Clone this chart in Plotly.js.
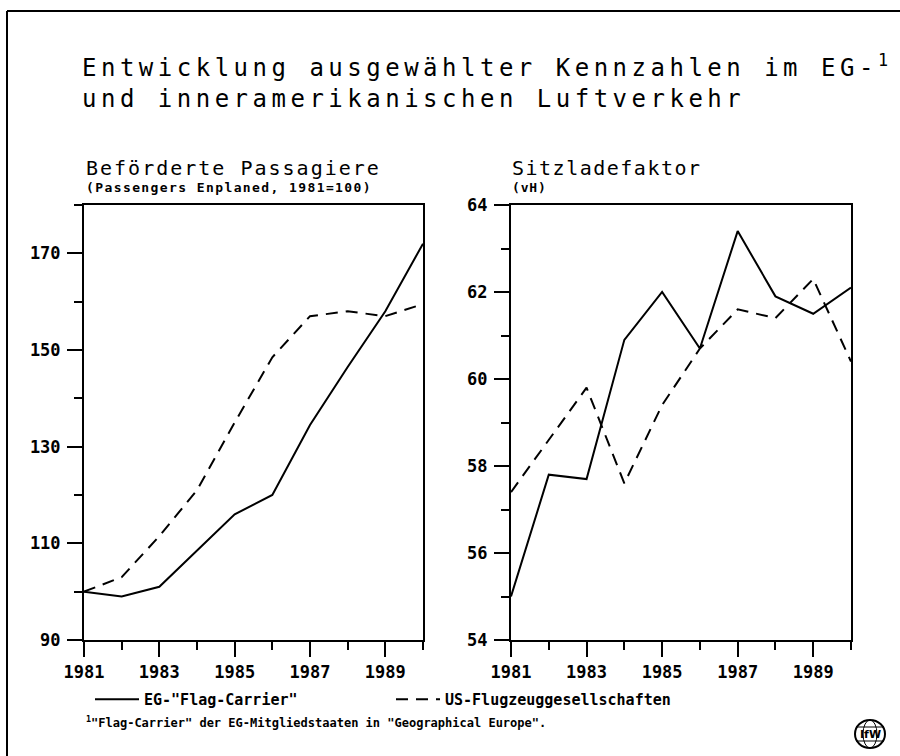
<!DOCTYPE html>
<html>
<head>
<meta charset="utf-8">
<script src="https://cdn.plot.ly/plotly-3.0.1.min.js"></script>
<style>
html,body{margin:0;padding:0;background:#fff;}
#chart{width:900px;height:756px;}
</style>
</head>
<body>
<div id="chart"></div>
<script>
// ---- data ----
const years = [1981, 1982, 1983, 1984, 1985, 1986, 1987, 1988, 1989, 1990];
const passengersEG = [100, 99, 101, 108.5, 116, 120, 134.5, 146.5, 158, 172];
const passengersUS = [100, 103, 111.5, 121, 135, 148.5, 157, 158, 157, 159.5];
const loadFactorEG = [55.0, 57.8, 57.7, 60.9, 62.0, 60.7, 63.4, 61.9, 61.5, 62.1];
const loadFactorUS = [57.4, 58.6, 59.8, 57.6, 59.4, 60.7, 61.6, 61.4, 62.3, 60.4];
const xTickYears = [1981, 1983, 1985, 1987, 1989];
const seriesNames = ['EG-"Flag-Carrier"', 'US-Flugzeuggesellschaften'];

const W = 900, H = 756;
const px = v => v / W;
const py = v => 1 - v / H;
const MONO = 'DejaVu Sans Mono';
const sp = (t, s) => '<span style="letter-spacing:' + s + 'px">' + t + '</span>';

const solid = {color: '#000', width: 2};
const dashed = {color: '#000', width: 2, dash: '12px,8px'};

const traces = [
  {x: years, y: passengersEG, xaxis: 'x', yaxis: 'y', mode: 'lines', name: seriesNames[0], line: solid, showlegend: true},
  {x: years, y: passengersUS, xaxis: 'x', yaxis: 'y', mode: 'lines', name: seriesNames[1], line: dashed, showlegend: true},
  {x: years, y: loadFactorEG, xaxis: 'x2', yaxis: 'y2', mode: 'lines', name: seriesNames[0], line: solid, showlegend: false},
  {x: years, y: loadFactorUS, xaxis: 'x2', yaxis: 'y2', mode: 'lines', name: seriesNames[1], line: dashed, showlegend: false}
];

const tickFont = {family: MONO, size: 17, color: '#000', weight: 'bold'};
function xAxis(domain, anchor) {
  return {
    domain: domain, anchor: anchor, range: [1981, 1990],
    tickvals: xTickYears, ticktext: xTickYears.map(String),
    ticks: 'outside', ticklen: 15, tickwidth: 2, tickcolor: '#000',
    minor: {dtick: 1, tick0: 1981, ticks: 'outside', ticklen: 8, tickwidth: 2, tickcolor: '#000'},
    showline: true, linewidth: 2, linecolor: '#000', mirror: true,
    showgrid: false, zeroline: false, tickfont: tickFont, ticklabelstandoff: 1,
    fixedrange: true
  };
}
function yAxis(domain, anchor, range, dtick) {
  return {
    domain: domain, anchor: anchor, range: range,
    tick0: range[0], dtick: dtick,
    ticks: 'outside', ticklen: 15, tickwidth: 2, tickcolor: '#000',
    minor: {dtick: dtick / 2, ticks: 'outside', ticklen: 8, tickwidth: 2, tickcolor: '#000'},
    showline: true, linewidth: 2, linecolor: '#000', mirror: true,
    showgrid: false, zeroline: false, tickfont: tickFont, ticklabelstandoff: 3,
    fixedrange: true
  };
}

const yDom = [py(640), py(205)];

const layout = {
  width: W, height: H,
  margin: {l: 0, r: 0, t: 0, b: 0},
  paper_bgcolor: '#fff', plot_bgcolor: '#fff',
  font: {family: MONO, color: '#000'},
  title: {
    text: sp('Entwicklung ausgewählter Kennzahlen im EG-<sup>1</sup>', 4.5) + '<br>' + sp('und inneramerikanischen Luftverkehr', 4.5),
    x: px(82), xanchor: 'left', xref: 'paper',
    y: py(76), yanchor: 'top', yref: 'paper',
    font: {family: MONO, size: 24, color: '#000'}
  },
  xaxis: xAxis([px(84), px(423)], 'y'),
  yaxis: yAxis(yDom, 'x', [90, 180], 20),
  xaxis2: xAxis([px(511), px(851)], 'y2'),
  yaxis2: yAxis(yDom, 'x2', [54, 64], 2),
  showlegend: true,
  legend: {
    orientation: 'h', x: px(90), xanchor: 'left', y: py(683), yanchor: 'top',
    entrywidth: 242, entrywidthmode: 'pixels', itemwidth: 44,
    font: {family: MONO, size: 15, color: '#000', weight: 'bold'},
    bgcolor: 'rgba(0,0,0,0)', borderwidth: 0
  },
  annotations: [
    {text: sp('Beförderte Passagiere', 2), x: px(84), y: py(168), xref: 'paper', yref: 'paper', xanchor: 'left', yanchor: 'middle', showarrow: false, font: {family: MONO, size: 20, color: '#000'}},
    {text: sp('(Passengers Enplaned, 1981=100)', 1.4), x: px(84), y: py(188), xref: 'paper', yref: 'paper', xanchor: 'left', yanchor: 'middle', showarrow: false, font: {family: MONO, size: 13, color: '#000', weight: 'bold'}},
    {text: sp('Sitzladefaktor', 1.5), x: px(510), y: py(168), xref: 'paper', yref: 'paper', xanchor: 'left', yanchor: 'middle', showarrow: false, font: {family: MONO, size: 20, color: '#000'}},
    {text: sp('(vH)', 0.8), x: px(510), y: py(188), xref: 'paper', yref: 'paper', xanchor: 'left', yanchor: 'middle', showarrow: false, font: {family: MONO, size: 13, color: '#000', weight: 'bold'}},
    {text: '<sup>1</sup>"Flag-Carrier" der EG-Mitgliedstaaten in "Geographical Europe".', x: px(84), y: py(722), xref: 'paper', yref: 'paper', xanchor: 'left', yanchor: 'middle', showarrow: false, font: {family: MONO, size: 12, color: '#000', weight: 'bold'}},
    {text: 'IfW', x: px(870), y: py(734), xref: 'paper', yref: 'paper', xanchor: 'center', yanchor: 'middle', showarrow: false, font: {family: 'DejaVu Sans', size: 11, color: '#000', weight: 'bold'}}
  ],
  shapes: [
    {type: 'line', xref: 'paper', yref: 'paper', x0: px(7), x1: px(7), y0: py(11), y1: 0, line: {color: '#000', width: 2}},
    {type: 'line', xref: 'paper', yref: 'paper', x0: px(7), x1: 1, y0: py(11), y1: py(11), line: {color: '#000', width: 2}},
    {type: 'circle', xref: 'paper', yref: 'paper', x0: px(855), x1: px(885), y0: py(748), y1: py(720), line: {color: '#000', width: 2}},
    {type: 'circle', xref: 'paper', yref: 'paper', x0: px(863), x1: px(877), y0: py(748), y1: py(720), line: {color: '#000', width: 1}},
    {type: 'line', xref: 'paper', yref: 'paper', x0: px(856), x1: px(884), y0: py(727), y1: py(727), line: {color: '#000', width: 1}},
    {type: 'line', xref: 'paper', yref: 'paper', x0: px(856), x1: px(884), y0: py(741), y1: py(741), line: {color: '#000', width: 1}}
  ]
};

Plotly.newPlot('chart', traces, layout, {staticPlot: true, displayModeBar: false});
</script>
</body>
</html>
